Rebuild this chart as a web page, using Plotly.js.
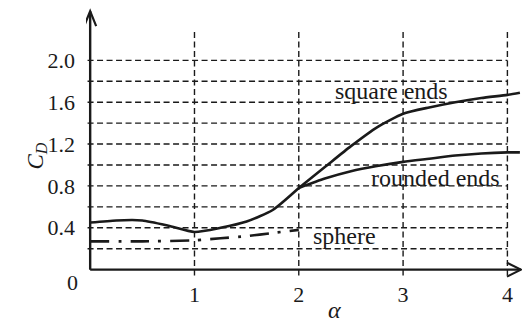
<!DOCTYPE html>
<html>
<head>
<meta charset="utf-8">
<script src="https://cdn.plot.ly/plotly-3.0.1.min.js"></script>
<style>
  html, body { margin: 0; padding: 0; background: #fff; }
  #chart { width: 522px; height: 322px; }
  #chart svg text { font-family: 'Liberation Serif', 'Times New Roman', serif !important; }
</style>
</head>
<body>
<div id="chart"></div>
<script>
// Drag coefficient C_D versus aspect ratio alpha
const alphaShared = [0, 0.25, 0.5, 0.75, 1.0, 1.25, 1.5, 1.75, 2.0];
const cdShared    = [0.45, 0.47, 0.47, 0.42, 0.36, 0.40, 0.46, 0.57, 0.78];

const alphaSquare = [2.0, 2.25, 2.5, 2.75, 3.0, 3.25, 3.5, 3.75, 4.0, 4.12];
const cdSquare    = [0.78, 0.98, 1.18, 1.36, 1.49, 1.55, 1.60, 1.64, 1.67, 1.69];

const alphaRounded = [2.0, 2.25, 2.5, 2.75, 3.0, 3.25, 3.5, 3.75, 4.0, 4.12];
const cdRounded    = [0.78, 0.87, 0.94, 0.99, 1.03, 1.06, 1.09, 1.11, 1.12, 1.12];

const alphaSphere = [0, 0.5, 1.0, 1.25, 1.5, 1.75, 2.0];
const cdSphere    = [0.27, 0.27, 0.28, 0.30, 0.32, 0.35, 0.38];

const xTicks = [1, 2, 3, 4];
const yTickVals = [0.4, 0.8, 1.2, 1.6, 2.0];
const yTickText = ['0.4', '0.8', '1.2', '1.6', '2.0'];
const yGrid = [0.2, 0.4, 0.6, 0.8, 1.0, 1.2, 1.4, 1.6, 1.8, 2.0];

const INK = '#1a1a1a';
const SERIF = 'Liberation Serif';

// axis extents (arrow tips)
const X_END = 4.13;
const Y_END = 2.47;
const GRID_TOP = 2.27;

const lineStyle = { color: INK, width: 2.6, shape: 'spline', smoothing: 0.6 };

const traces = [
  { x: alphaShared, y: cdShared, mode: 'lines', line: lineStyle, hoverinfo: 'skip' },
  { x: alphaSquare, y: cdSquare, mode: 'lines', line: lineStyle, hoverinfo: 'skip' },
  { x: alphaRounded, y: cdRounded, mode: 'lines', line: lineStyle, hoverinfo: 'skip' },
  { x: alphaSphere, y: cdSphere, mode: 'lines',
    line: { color: INK, width: 2.6, dash: '19px,9px,3px,9px', shape: 'spline', smoothing: 0.6 },
    hoverinfo: 'skip' }
];

const gridLine = { color: INK, width: 1.4, dash: '6px,3.5px' };
const shapes = [];
yGrid.forEach(v => shapes.push({
  type: 'line', xref: 'x', yref: 'y', x0: -0.025, x1: xTicks[xTicks.length - 1], y0: v, y1: v,
  line: gridLine, layer: 'below'
}));
xTicks.forEach(v => shapes.push({
  type: 'line', xref: 'x', yref: 'y', x0: v, x1: v, y0: -0.055, y1: GRID_TOP,
  line: gridLine, layer: 'below'
}));

// axis lines with open arrowheads
const axisLine = { color: INK, width: 2.4 };
shapes.push({ type: 'line', xref: 'x', yref: 'y', x0: 0, x1: X_END, y0: 0, y1: 0, line: axisLine });
shapes.push({ type: 'line', xref: 'x', yref: 'y', x0: 0, x1: 0, y0: 0, y1: Y_END, line: axisLine });
shapes.push({ type: 'path', xref: 'x', yref: 'y', xsizemode: 'pixel', ysizemode: 'pixel',
  xanchor: 0, yanchor: Y_END, path: 'M -6 -15 L 0 0 L 6 -15', line: { color: INK, width: 2.2 } });
shapes.push({ type: 'path', xref: 'x', yref: 'y', xsizemode: 'pixel', ysizemode: 'pixel',
  xanchor: X_END, yanchor: 0, path: 'M -14 7 L 0 0 L -14 -7', line: { color: INK, width: 2.2 } });

const labelFont = { family: SERIF, size: 24, color: INK };
const annotations = [
  { x: 2.89, y: 1.71, xref: 'x', yref: 'y', text: 'square ends', showarrow: false, font: labelFont },
  { x: 3.31, y: 0.88, xref: 'x', yref: 'y', text: 'rounded ends', showarrow: false, font: labelFont },
  { x: 2.435, y: 0.32, xref: 'x', yref: 'y', text: 'sphere', showarrow: false, font: labelFont },
  { x: 0, y: 0, xref: 'x', yref: 'y', text: '0', showarrow: false, xshift: -18, yshift: -13,
    font: { family: SERIF, size: 22, color: INK } },
  { x: 2.34, y: 0, xref: 'x', yref: 'paper', yanchor: 'top', text: '<i>α</i>', showarrow: false,
    yshift: -17, font: { family: SERIF, size: 24, color: INK } },
  { x: 0, y: 0.45, xref: 'paper', yref: 'paper', text: '<i>C</i><sub><i>D</i></sub>', textangle: -90,
    showarrow: false, xshift: -66, font: { family: SERIF, size: 23, color: INK } }
];

const layout = {
  width: 522, height: 322,
  margin: { l: 86, r: 0, t: 8, b: 44 },
  paper_bgcolor: '#fff', plot_bgcolor: '#fff',
  showlegend: false,
  font: { family: SERIF, color: INK },
  xaxis: {
    range: [-0.04, 4.14], tickvals: xTicks, ticktext: xTicks.map(String),
    showgrid: false, zeroline: false, showline: false, ticks: '',
    ticklabelstandoff: 1,
    tickfont: { family: SERIF, size: 22, color: INK }
  },
  yaxis: {
    range: [-0.08, 2.5], tickvals: yTickVals, ticktext: yTickText,
    showgrid: false, zeroline: false, showline: false, ticks: '',
    ticklabelstandoff: 10,
    tickfont: { family: SERIF, size: 22, color: INK }
  },
  shapes: shapes,
  annotations: annotations
};

Plotly.newPlot('chart', traces, layout, { staticPlot: true, displayModeBar: false });
</script>
</body>
</html>
